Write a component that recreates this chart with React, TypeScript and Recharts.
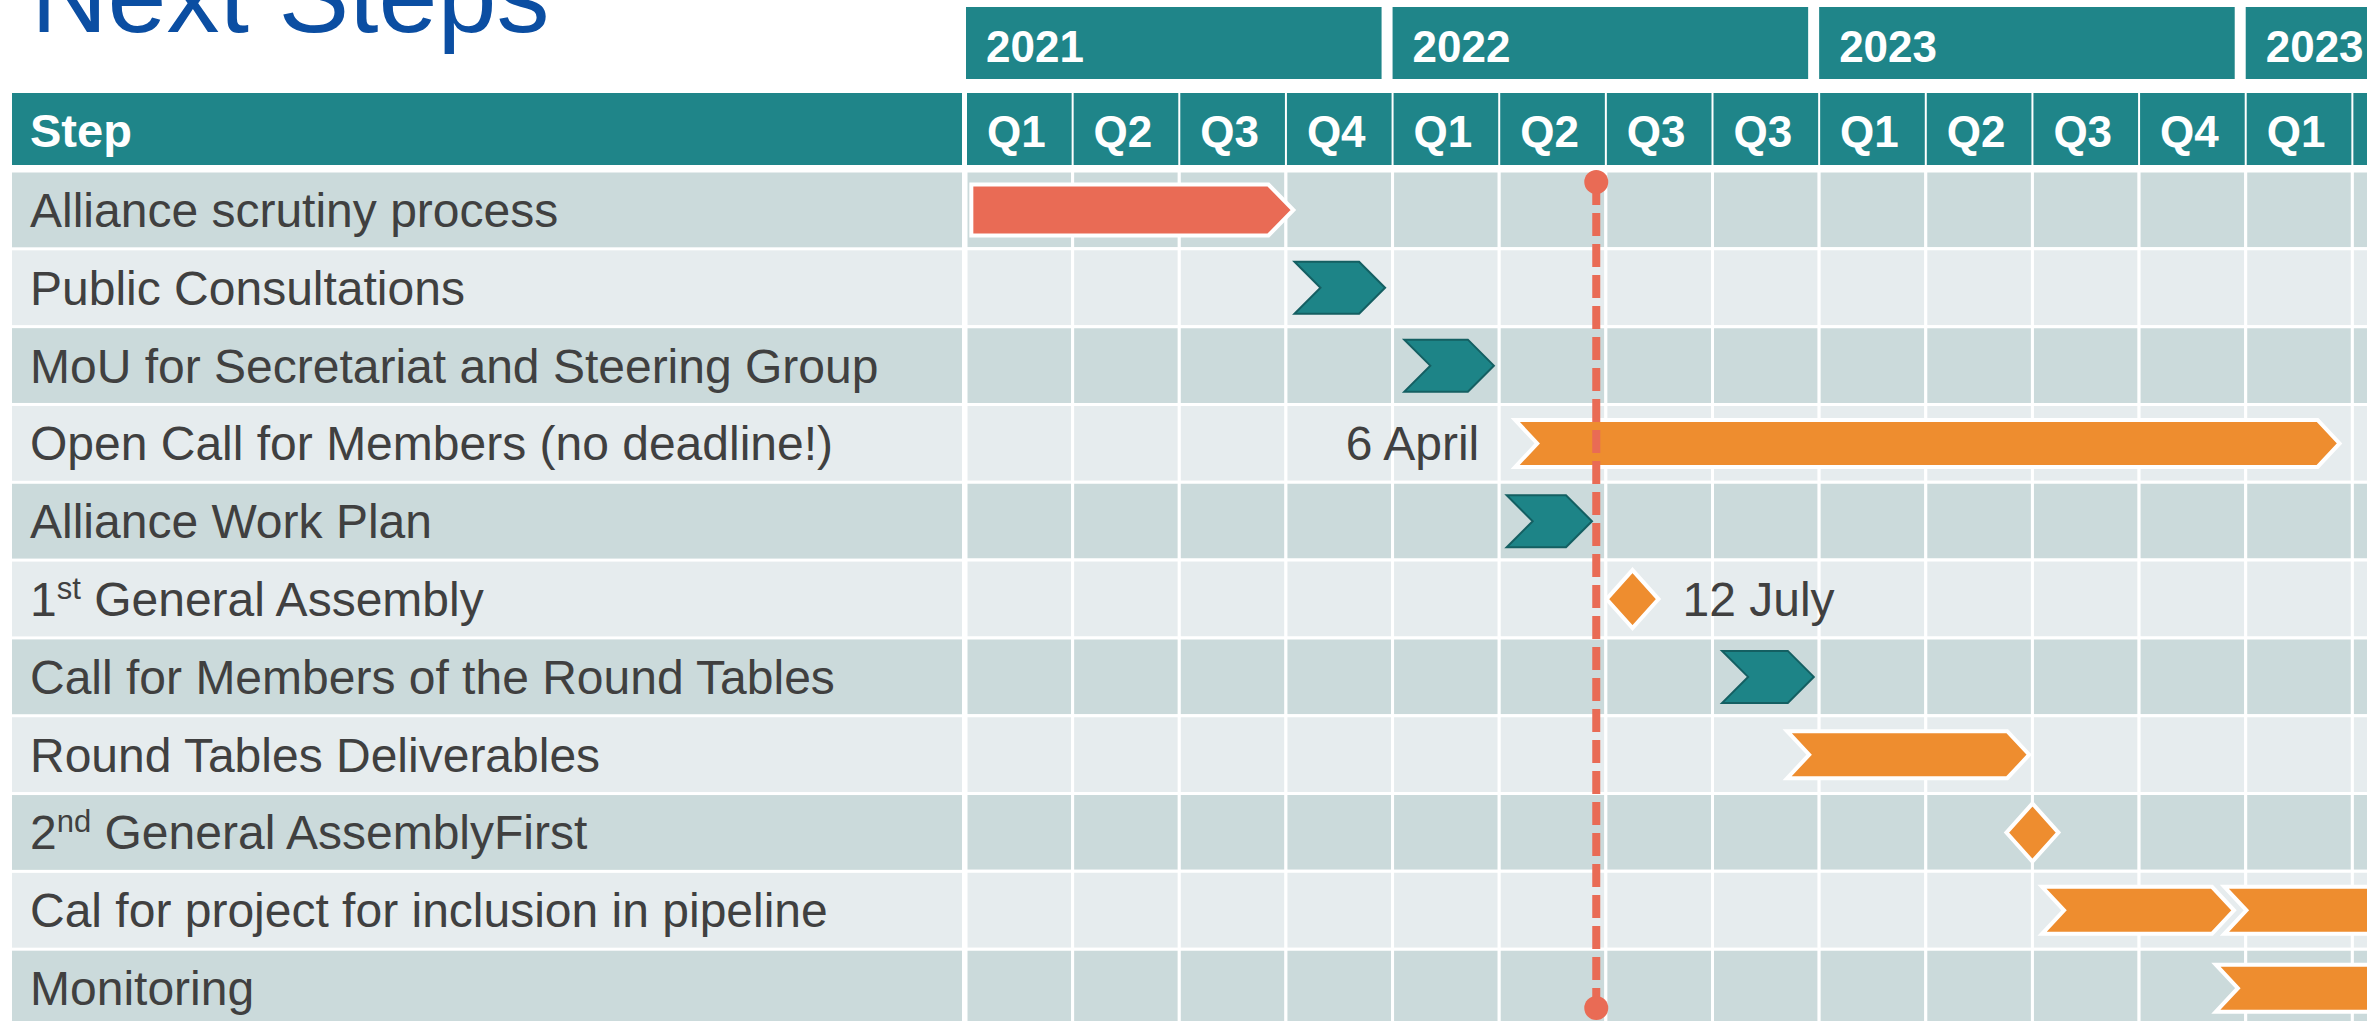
import React from "react";
import { BarChart, Bar, XAxis, YAxis, ReferenceArea, ReferenceLine } from "recharts";

// Gantt rows, positions are in quarter units (0 = Q1 2021)
const steps = [
  "Alliance scrutiny process",
  "Public Consultations",
  "MoU for Secretariat and Steering Group",
  "Open Call for Members (no deadline!)",
  "Alliance Work Plan",
  "1st General Assembly",
  "Call for Members of the Round Tables",
  "Round Tables Deliverables",
  "2nd General AssemblyFirst",
  "Cal for project for inclusion in pipeline",
  "Monitoring",
];
const starts = [0.05, 3.08, 4.11, 5.15, 5.07, 6.25, 7.09, 7.7, 10.0, 10.09, 11.72];
const ends = [3.07, 3.93, 4.95, 12.88, 5.87, 6.25, 7.95, 9.97, 10.0, 11.89, 14];
const kinds = ["arrow", "chevron", "chevron", "notched", "chevron", "milestone", "chevron", "notched", "milestone", "notched", "notched"];
const notes = ["", "", "", "6 April", "", "12 July", "", "", "", "", ""];
// second leg of the pipeline call
const extraStarts = [null, null, null, null, null, null, null, null, null, 11.8, null];
const extraEnds = [null, null, null, null, null, null, null, null, null, 14, null];

const quarterLabels = ["Q1", "Q2", "Q3", "Q4", "Q1", "Q2", "Q3", "Q3", "Q1", "Q2", "Q3", "Q4", "Q1", "Q2"];
const quarterTicks = quarterLabels.map((_, i) => i);
const yearLabels = ["2021", "2022", "2023", "2023"];
const yearTicks = [0, 4, 8, 12];
const todayMarker = 5.91;

const data = steps.map((step, i) => ({
  step,
  range: [starts[i], ends[i]],
  extra: extraStarts[i] != null ? [extraStarts[i], extraEnds[i]] : undefined,
  kind: kinds[i],
  note: notes[i],
}));

const FONT = '"Liberation Sans", Arial, sans-serif';
const TEAL = "#1f8589";
const TEAL_DARK = "#145f62";
const CHEVRON = "#1d8487";
const RED = "#e96b55";
const ORANGE = "#ee8d2f";
const ROW_DARK = "#cbdadb";
const ROW_LIGHT = "#e6ecee";
const TEXT = "#404040";

const CHART_W = 2459;
const CHART_H = 1027;
const LEFT = 12;
const LABEL_W = 954;
const YEAR_H = 94;
const QUARTER_H = 77;
const COL_W = (CHART_W - LEFT - LABEL_W) / quarterLabels.length;
const ROW_H = (CHART_H - YEAR_H - QUARTER_H) / steps.length;

const renderStepLabel = (label: string) => {
  const m = label.match(/^(\d+)(st|nd|rd|th) (.*)$/);
  if (!m) return label;
  return (
    <>
      {m[1]}
      <tspan fontSize={31} dy={-17}>{m[2]}</tspan>
      <tspan dy={17} style={{ whiteSpace: "pre" }}>{" " + m[3]}</tspan>
    </>
  );
};

const StepTick = (props: any) => {
  const { y, payload } = props;
  const i = steps.indexOf(payload.value);
  return (
    <g>
      <rect x={LEFT} y={y - ROW_H / 2 + 1.5} width={950} height={ROW_H - 3} fill={i % 2 === 0 ? ROW_DARK : ROW_LIGHT} />
      <text x={30} y={y + 17} fontFamily={FONT} fontSize={48} fill={TEXT}>
        {renderStepLabel(payload.value)}
      </text>
    </g>
  );
};

const QuarterTick = (props: any) => {
  const { x, payload } = props;
  const i = payload.value;
  return (
    <g>
      {i === 0 && (
        <g>
          <rect x={LEFT} y={93} width={x - 4 - LEFT} height={72} fill={TEAL} />
          <text x={30} y={147} fontFamily={FONT} fontSize={47} fontWeight="bold" fill="#fff">Step</text>
        </g>
      )}
      <rect x={x + 1} y={93} width={COL_W - 2} height={72} fill={TEAL} />
      <text x={x + COL_W / 2 - 3} y={147} textAnchor="middle" fontFamily={FONT} fontSize={44} fontWeight="bold" fill="#fff">
        {quarterLabels[i]}
      </text>
    </g>
  );
};

const YearTick = (props: any) => {
  const { x, payload } = props;
  const k = yearTicks.indexOf(payload.value);
  return (
    <g>
      <rect x={x} y={7} width={4 * COL_W - 11} height={72} fill={TEAL} />
      <text x={x + 20} y={62} fontFamily={FONT} fontSize={44} fontWeight="bold" fill="#fff">{yearLabels[k]}</text>
    </g>
  );
};

const drawShape = (kind: string, x0: number, x1: number, cy: number, note: string) => {
  if (kind === "milestone") {
    const hw = 26, hh = 29;
    return (
      <g>
        <polygon points={`${x0 - hw},${cy} ${x0},${cy - hh} ${x0 + hw},${cy} ${x0},${cy + hh}`} fill={ORANGE} stroke="#fff" strokeWidth={4} />
        {note && <text x={x0 + 50} y={cy + 17} fontFamily={FONT} fontSize={48} fill={TEXT}>{note}</text>}
      </g>
    );
  }
  if (kind === "arrow") {
    const h = 25.5, d = 25;
    return (
      <polygon
        points={`${x0},${cy - h} ${x1 - d},${cy - h} ${x1},${cy} ${x1 - d},${cy + h} ${x0},${cy + h}`}
        fill={RED} stroke="#fff" strokeWidth={4}
      />
    );
  }
  if (kind === "chevron") {
    const h = 26, d = 26;
    return (
      <polygon
        points={`${x0},${cy - h} ${x1 - d},${cy - h} ${x1},${cy} ${x1 - d},${cy + h} ${x0},${cy + h} ${x0 + d},${cy}`}
        fill={CHEVRON} stroke={TEAL_DARK} strokeWidth={2}
      />
    );
  }
  const h = 23.5, d = 22;
  return (
    <g>
      <polygon
        points={`${x0},${cy - h} ${x1 - d},${cy - h} ${x1},${cy} ${x1 - d},${cy + h} ${x0},${cy + h} ${x0 + d},${cy}`}
        fill={ORANGE} stroke="#fff" strokeWidth={4}
      />
      {note && <text x={x0 - 36} y={cy + 17} textAnchor="end" fontFamily={FONT} fontSize={48} fill={TEXT}>{note}</text>}
    </g>
  );
};

const centerOf = (p: any) => (p.background ? p.background.y + p.background.height / 2 : p.y + p.height / 2);

const MainShape = (p: any) => drawShape(p.payload.kind, p.x, p.x + p.width, centerOf(p), p.payload.note);
const ExtraShape = (p: any) => {
  if (!p.payload.extra || !isFinite(p.x) || !isFinite(p.width)) return <g />;
  return drawShape("notched", p.x, p.x + p.width, centerOf(p), "");
};

const TodayLine = (p: any) => {
  const top = Math.min(p.y1, p.y2);
  const bottom = Math.max(p.y1, p.y2);
  const x = p.x1;
  return (
    <g>
      <line x1={x} x2={x} y1={top + 11} y2={bottom - 19} stroke={RED} strokeWidth={8} strokeDasharray="23 8" />
      <circle cx={x} cy={top + 11} r={12} fill={RED} />
      <circle cx={x} cy={bottom - 19} r={12} fill={RED} />
    </g>
  );
};

const App: React.FC = () => {
  return (
    <div style={{ position: "fixed", left: 0, top: 0, width: 2367, height: 1021, overflow: "hidden", background: "#fff", fontFamily: FONT }}>
      <svg width={700} height={100} style={{ position: "absolute", left: 0, top: 0 }}>
        <text x={31} y={32} fontFamily={FONT} fontSize={106} fill="#0b4ea2">Next Steps</text>
      </svg>
      <BarChart
        width={CHART_W}
        height={CHART_H}
        data={data}
        layout="vertical"
        margin={{ top: 0, right: 0, bottom: 0, left: LEFT }}
        barGap={-50}
      >
        <XAxis
          xAxisId="q"
          type="number"
          orientation="top"
          domain={[0, quarterLabels.length]}
          ticks={quarterTicks}
          interval={0}
          allowDataOverflow
          height={QUARTER_H}
          axisLine={false}
          tickLine={false}
          tick={<QuarterTick />}
        />
        <XAxis
          xAxisId="year"
          type="number"
          orientation="top"
          domain={[0, quarterLabels.length]}
          ticks={yearTicks}
          interval={0}
          allowDataOverflow
          height={YEAR_H}
          axisLine={false}
          tickLine={false}
          tick={<YearTick />}
        />
        <YAxis
          type="category"
          dataKey="step"
          width={LABEL_W}
          interval={0}
          axisLine={false}
          tickLine={false}
          tick={<StepTick />}
        />
        {steps.map((s, r) =>
          quarterLabels.map((_, c) => (
            <ReferenceArea
              key={`${r}-${c}`}
              xAxisId="q"
              x1={c}
              x2={c + 1}
              y1={s}
              y2={s}
              fill={r % 2 === 0 ? ROW_DARK : ROW_LIGHT}
              fillOpacity={1}
              stroke="#fff"
              strokeWidth={3}
              ifOverflow="visible"
            />
          ))
        )}
        <Bar xAxisId="q" dataKey="range" barSize={50} shape={MainShape} isAnimationActive={false} />
        <Bar xAxisId="q" dataKey="extra" barSize={50} shape={ExtraShape} isAnimationActive={false} />
        <ReferenceLine xAxisId="q" x={todayMarker} ifOverflow="visible" shape={TodayLine} />
      </BarChart>
    </div>
  );
};

export default App;
